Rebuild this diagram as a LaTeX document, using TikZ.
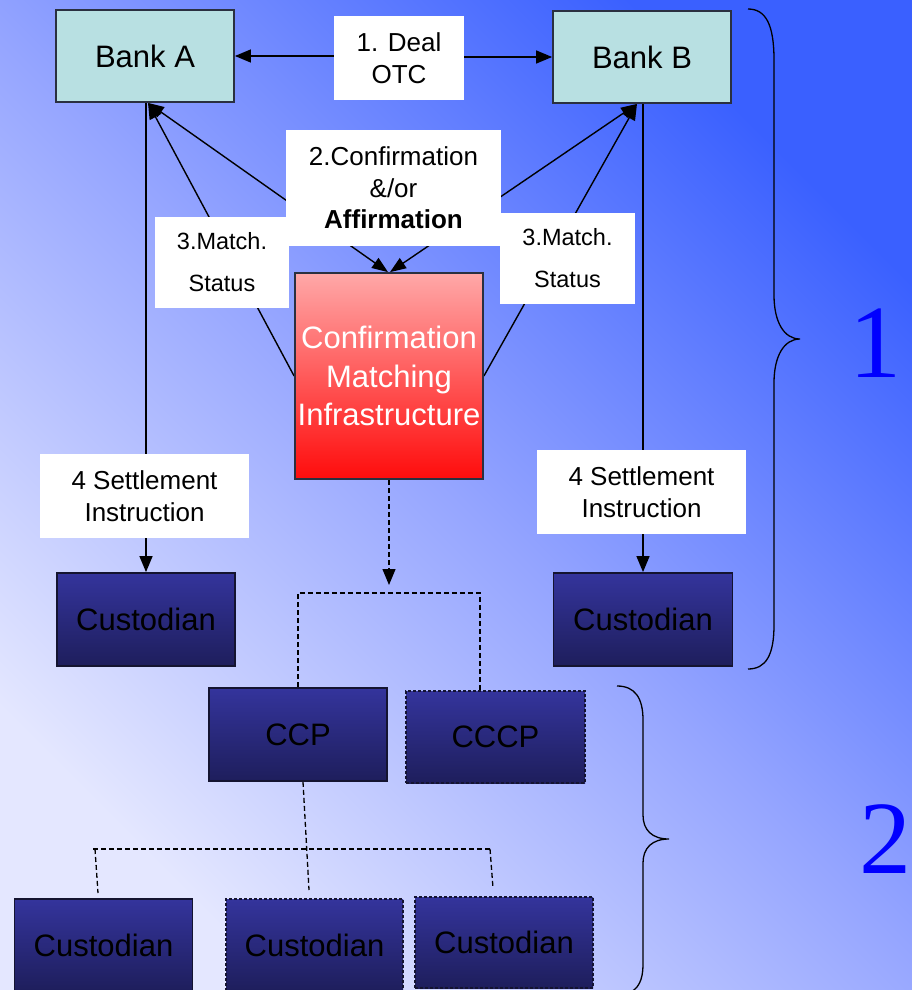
\documentclass[tikz,border=0pt]{standalone}
\usepackage{fontspec}
\setmainfont{Liberation Sans}
\newfontfamily\numfont{Liberation Serif}
\usetikzlibrary{arrows.meta}
\pgfdeclarelayer{bgl}
\pgfdeclarelayer{lines}
\pgfsetlayers{bgl,lines,main}
\definecolor{bgdark}{HTML}{3A60FF}
\definecolor{bgmid}{HTML}{95A5FF}
\definecolor{bglight}{HTML}{E4E7FF}
\definecolor{bankfill}{HTML}{B8E0E2}
\definecolor{bankline}{HTML}{2A3040}
\definecolor{custtop}{HTML}{34349C}
\definecolor{custbot}{HTML}{1E1E5C}
\definecolor{custline}{HTML}{141430}
\definecolor{cmitop}{HTML}{FFA8A8}
\definecolor{cmibot}{HTML}{FF0C0C}
\definecolor{numblue}{HTML}{0000FF}
\begin{document}
\begin{tikzpicture}[x=1pt,y=-1pt,
  bank/.style={draw=bankline, line width=1.8pt, fill=bankfill, inner sep=0pt,
    minimum width=178pt, minimum height=92pt, font=\fontsize{31}{37}\selectfont},
  cust/.style={draw=custline, line width=1.8pt, top color=custtop, bottom color=custbot,
    inner sep=0pt, minimum width=178pt, minimum height=92pt, font=\fontsize{31}{37}\selectfont},
  custdash/.style={cust, line width=1.4pt, dash pattern=on 3pt off 2pt},
  lbl/.style={fill=white, inner sep=0pt, align=center},
  cmibox/.style={draw=bankline, line width=1.8pt, top color=cmitop, bottom color=cmibot,
    inner sep=0pt, align=center, text=white, minimum width=188pt, minimum height=206pt,
    font=\fontsize{31}{38.5}\selectfont},
  arr/.style={-{Triangle[length=16pt,width=13pt]}, line width=1.4pt},
  darr/.style={{Triangle[length=16pt,width=12pt]}-{Triangle[length=16pt,width=12pt]}, line width=1.4pt},
  dsh/.style={line width=1.3pt, dash pattern=on 5pt off 3pt, draw=black},
  brace/.style={line width=1.3pt, draw=black},
  bignum/.style={text=numblue, inner sep=0pt, font=\numfont\fontsize{104}{104}\selectfont}]

\begin{pgfonlayer}{bgl}
\shade[top color=bgdark, bottom color=bglight, middle color=bgmid, shading angle=-45] (0,0) rectangle (912,990);
\end{pgfonlayer}
\useasboundingbox (0,0) rectangle (912,990);

% main boxes
\node[bank] (bankA) at (145,56) {Bank A};
\node[bank] (bankB) at (642,57) {Bank B};
\node[lbl, minimum width=130pt, minimum height=84pt, font=\fontsize{26}{31.5}\selectfont] (deal) at (399,58) {1. Deal\\OTC};
\node[lbl, minimum width=215pt, minimum height=116pt, font=\fontsize{26}{31.5}\selectfont] (conf) at (393.5,188) {2.Confirmation\\\&/or\\\textbf{Affirmation}};
\node[lbl, minimum width=134pt, minimum height=91pt, font=\fontsize{23.5}{42}\selectfont] (mA) at (222,262.5) {3.Match.\\Status};
\node[lbl, minimum width=135pt, minimum height=91pt, font=\fontsize{23.5}{42}\selectfont] (mB) at (567.5,258.5) {3.Match.\\Status};
\node[cmibox] (cmi) at (389,376) {Confirmation\\Matching\\Infrastructure};
\node[lbl, minimum width=209pt, minimum height=84pt, font=\fontsize{26}{32}\selectfont] (sA) at (144.5,496) {4 Settlement\\Instruction};
\node[lbl, minimum width=209pt, minimum height=84pt, font=\fontsize{26}{32}\selectfont] (sB) at (641.5,492) {4 Settlement\\Instruction};
\node[cust, minimum height=93pt] (custA) at (146,619.5) {Custodian};
\node[cust, minimum width=179pt, minimum height=93pt] (custB) at (643,619.5) {Custodian};
\node[cust, minimum height=93pt] (ccp) at (298,734.5) {CCP};
\node[custdash, minimum width=179pt] (cccp) at (495.5,737) {CCCP};
\node[cust] (c1) at (103.5,945) {Custodian};
\node[custdash, minimum width=177pt] (c2) at (314.5,945) {Custodian};
\node[custdash, minimum height=91pt] (c3) at (504,942.5) {Custodian};

\node[bignum] (n1) at (875,343) {1};
\node[bignum] (n2) at (885,839) {2};

\begin{pgfonlayer}{lines}
\draw[arr] (deal.west |- bankA.east) -- (bankA.east);
\draw[arr] (deal.east |- bankB.west) -- (bankB.west);
\coordinate (aTip) at ([xshift=3]bankA.south);
\coordinate (bTip) at ([xshift=-5]bankB.south);
\draw[darr] (aTip) -- ([xshift=-1]cmi.north);
\draw[darr] (bTip) -- ([xshift=1]cmi.north);
\draw[arr] (cmi.west) -- (aTip);
\draw[arr] (cmi.east) -- (bTip);
\draw[arr] (custA.north |- bankA.south) -- (custA.north);
\draw[arr] (custB.north |- bankB.south) -- (custB.north);
\coordinate (split) at (389,585);
\draw[dsh, -{Triangle[length=16pt,width=13pt]}] (cmi.south) -- (split);
\coordinate (brL) at (298,593);
\coordinate (brR) at (480,593);
\draw[dsh] (ccp.north) -- (brL) -- (brR) -- (brR |- cccp.north);
\coordinate (hL) at (93,849);
\coordinate (hR) at (490,849);
\coordinate (eL) at (98,893);
\coordinate (eM) at (309,890);
\coordinate (eR) at (493,888);
\draw[dsh] ([xshift=5]ccp.south) -- (eM);
\draw[dsh] (hL) -- (hR);
\draw[dsh] ([xshift=2]hL) -- (eL);
\draw[dsh] (hR) -- (eR);
\end{pgfonlayer}

% braces
\draw[brace] (748,9) .. controls (766,9) and (774,25) .. (774,60) -- (774,295)
  .. controls (774,322) and (784,339) .. (800,339)
  .. controls (784,339) and (774,356) .. (774,383) -- (774,625)
  .. controls (774,655) and (766,669) .. (748,669);
\draw[brace] (617,686) .. controls (635,686) and (643,698) .. (643,720) -- (643,815)
  .. controls (643,830) and (652,839) .. (669,839)
  .. controls (652,839) and (643,848) .. (643,863) -- (643,965)
  .. controls (643,980) and (638,990) .. (628,993);
\end{tikzpicture}
\end{document}
